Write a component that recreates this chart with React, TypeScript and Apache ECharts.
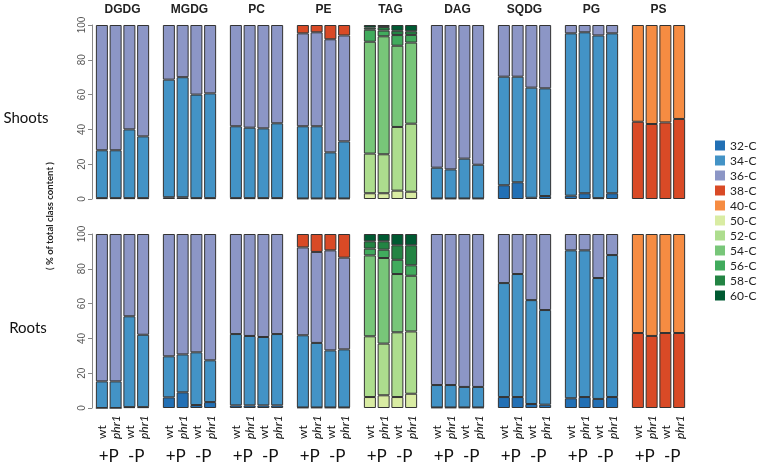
import React, { useEffect, useRef } from "react";
import * as echarts from "echarts";

const classes = ["32-C", "34-C", "36-C", "38-C", "40-C", "50-C", "52-C", "54-C", "56-C", "58-C", "60-C"];
const classColors = ["#2270b5", "#4393c6", "#8c96c6", "#d94a26", "#f68c42", "#d9eca3", "#addd8e", "#78c679", "#41ab5d", "#238443", "#005a32"];
const lipids = ["DGDG", "MGDG", "PC", "PE", "TAG", "DAG", "SQDG", "PG", "PS"];
const samples = ["wt", "phr1", "wt", "phr1"];
const treatments = ["+P", "-P"];
const tissues = ["Shoots", "Roots"];
const yTicks = [0, 20, 40, 60, 80, 100];

// Shoots: segment sizes (% of class) for wt+P, phr1+P, wt-P, phr1-P
const shootsDGDG: Record<string, number[]> = { "32-C": [0.5, 0.5, 0.5, 0.5], "34-C": [27.5, 27.5, 39.5, 35.5], "36-C": [72, 72, 60, 64] };
const shootsMGDG: Record<string, number[]> = { "32-C": [1, 1, 0.5, 0.5], "34-C": [67.6, 69, 59.5, 60.2], "36-C": [31.4, 30, 40, 39.3] };
const shootsPC: Record<string, number[]> = { "32-C": [0.5, 0.5, 0.5, 0.5], "34-C": [41.3, 40.5, 40.1, 43], "36-C": [58.2, 59, 59.4, 56.5] };
const shootsPE: Record<string, number[]> = { "32-C": [0.3, 0.3, 0.3, 0.3], "34-C": [41.5, 41.5, 26.5, 32.8], "36-C": [53.4, 54, 65, 60.9], "38-C": [4.8, 4.2, 8.2, 6] };
const shootsTAG: Record<string, number[]> = { "50-C": [3.3, 3.3, 4.8, 4.2], "52-C": [22.8, 22.4, 36.6, 39.1], "54-C": [64.3, 67.8, 46.7, 46.6], "56-C": [6.9, 3.3, 6.1, 4.4], "58-C": [1.2, 2, 2.5, 2.1], "60-C": [1.5, 1.2, 3.3, 3.6] };
const shootsDAG: Record<string, number[]> = { "32-C": [0.3, 0.3, 0.3, 0.3], "34-C": [17.7, 16.7, 22.9, 19.4], "36-C": [82, 83, 76.8, 80.3] };
const shootsSQDG: Record<string, number[]> = { "32-C": [7.9, 9.6, 0.7, 1.7], "34-C": [62.4, 60.7, 63.3, 61.9], "36-C": [29.7, 29.7, 36, 36.4] };
const shootsPG: Record<string, number[]> = { "32-C": [1.9, 3.3, 0.5, 3.3], "34-C": [93.3, 92.5, 93.5, 91.9], "36-C": [4.8, 4.2, 6, 4.8] };
const shootsPS: Record<string, number[]> = { "38-C": [44.4, 43.1, 44, 46], "40-C": [55.6, 56.9, 56, 54] };

// Roots
const rootsDGDG: Record<string, number[]> = { "32-C": [0, 0, 0.5, 0.5], "34-C": [15.3, 15.3, 52.2, 41.6], "36-C": [84.7, 84.7, 47.3, 57.9] };
const rootsMGDG: Record<string, number[]> = { "32-C": [6.1, 9, 1.7, 3.4], "34-C": [23.6, 21.8, 30.3, 24], "36-C": [70.3, 69.2, 68, 72.6] };
const rootsPC: Record<string, number[]> = { "32-C": [1.5, 1.5, 1.5, 1.5], "34-C": [41, 39.9, 39.3, 41], "36-C": [57.5, 58.6, 59.2, 57.5] };
const rootsPE: Record<string, number[]> = { "32-C": [0.3, 0.3, 0.3, 0.3], "34-C": [41.5, 37.1, 32.8, 33.4], "36-C": [50.5, 52.3, 57.5, 52.7], "38-C": [7.7, 10.3, 9.4, 13.6] };
const rootsTAG: Record<string, number[]> = { "50-C": [6.3, 7.3, 6.3, 8.2], "52-C": [34.9, 29.7, 37.2, 35.8], "54-C": [46.5, 49.2, 33.5, 32], "56-C": [3.9, 4.8, 8.2, 6], "58-C": [4.2, 4.8, 8.3, 11.5], "60-C": [4.2, 4.2, 6.5, 6.5] };
const rootsDAG: Record<string, number[]> = { "32-C": [0.3, 0.3, 0.3, 0.3], "34-C": [12.9, 12.9, 11.8, 11.8], "36-C": [86.8, 86.8, 87.9, 87.9] };
const rootsSQDG: Record<string, number[]> = { "32-C": [6.3, 6.3, 2.3, 1.9], "34-C": [65.5, 70.7, 59.7, 54.4], "36-C": [28.2, 23, 38, 43.7] };
const rootsPG: Record<string, number[]> = { "32-C": [5.6, 6.3, 5.2, 6.3], "34-C": [85, 84.3, 69.5, 81.6], "36-C": [9.4, 9.4, 25.3, 12.1] };
const rootsPS: Record<string, number[]> = { "38-C": [43.1, 41.4, 43.1, 43.1], "40-C": [56.9, 58.6, 56.9, 56.9] };

const shootsData = [shootsDGDG, shootsMGDG, shootsPC, shootsPE, shootsTAG, shootsDAG, shootsSQDG, shootsPG, shootsPS];
const rootsData = [rootsDGDG, rootsMGDG, rootsPC, rootsPE, rootsTAG, rootsDAG, rootsSQDG, rootsPG, rootsPS];

const PANEL_LEFT = 95;
const PANEL_STEP = 67;
const PANEL_W = 55;
const ROW_TOPS = [25, 234];
const ROW_H = 174;
const ROW_LABEL_POS = [[26, 117], [28, 327]];
const CAL = "Lato, 'Open Sans', sans-serif";
const ARIAL = "'Liberation Sans', Arial, sans-serif";

export default function App() {
  const ref = useRef<HTMLDivElement>(null);
  useEffect(() => {
    const chart = echarts.init(ref.current!, null, { renderer: "svg" });
    const grid: any[] = [];
    const xAxis: any[] = [];
    const yAxis: any[] = [];
    const series: any[] = [];
    const graphic: any[] = [];
    const rows = [shootsData, rootsData];

    rows.forEach((rowData, r) => {
      rowData.forEach((panel, p) => {
        const g = r * lipids.length + p;
        grid.push({ left: PANEL_LEFT + p * PANEL_STEP, top: ROW_TOPS[r], width: PANEL_W, height: ROW_H });
        const mainX = xAxis.length;
        xAxis.push({
          gridIndex: g,
          type: "category",
          data: samples,
          axisLine: { show: false },
          axisTick: { show: false },
          axisLabel: r === 1
            ? {
                show: true,
                interval: 0,
                rotate: 90,
                align: "left",
                verticalAlign: "middle",
                margin: 31,
                fontFamily: CAL,
                fontSize: 12,
                color: "#111",
                formatter: (v: string) => (v === "phr1" ? "{i|phr1}" : "{n|" + v + "}"),
                rich: {
                  i: { fontStyle: "italic", fontFamily: CAL, fontSize: 12, color: "#111" },
                  n: { fontFamily: CAL, fontSize: 12, color: "#111" },
                },
              }
            : { show: false },
        });
        if (r === 1) {
          xAxis.push({
            gridIndex: g,
            type: "category",
            data: treatments,
            position: "bottom",
            axisLine: { show: false },
            axisTick: { show: false },
            axisLabel: { interval: 0, margin: 39, fontFamily: CAL, fontSize: 17, color: "#111" },
          });
        }
        yAxis.push({
          gridIndex: g,
          type: "value",
          min: 0,
          max: 100,
          interval: 20,
          show: p === 0,
          offset: 3,
          splitLine: { show: false },
          axisLine: { show: true, lineStyle: { color: "#888", width: 1 } },
          axisTick: { show: true, length: 4, lineStyle: { color: "#888" } },
          axisLabel: {
            rotate: 90,
            margin: 6,
            fontFamily: ARIAL,
            fontSize: 10,
            color: "#555",
            formatter: (v: number) => (yTicks.includes(v) ? String(v) : ""),
          },
        });
        classes.forEach((c, ci) => {
          const vals = panel[c];
          if (!vals) return;
          series.push({
            type: "bar",
            name: c,
            xAxisIndex: mainX,
            yAxisIndex: g,
            stack: "s" + g,
            barWidth: 12,
            data: vals,
            itemStyle: { color: classColors[ci], borderColor: "#333", borderWidth: 1 },
            emphasis: { disabled: true },
          });
        });
      });
    });

    lipids.forEach((name, p) => {
      graphic.push({
        type: "text",
        x: PANEL_LEFT + p * PANEL_STEP + PANEL_W / 2,
        y: 9,
        style: { text: name, textAlign: "center", textVerticalAlign: "middle", font: "bold 12px " + ARIAL, fill: "#222" },
      });
    });
    tissues.forEach((t, r) => {
      graphic.push({
        type: "text",
        x: ROW_LABEL_POS[r][0],
        y: ROW_LABEL_POS[r][1],
        style: { text: t, textAlign: "center", textVerticalAlign: "middle", font: "15px " + CAL, fill: "#111" },
      });
    });
    graphic.push({
      type: "text",
      x: 49,
      y: 216,
      rotation: Math.PI / 2,
      style: { text: "( % of total class content )", textAlign: "center", textVerticalAlign: "middle", font: "bold 9.5px " + CAL, fill: "#222" },
    });

    chart.setOption({
      animation: false,
      grid,
      xAxis,
      yAxis,
      series,
      graphic,
      legend: {
        data: classes,
        orient: "vertical",
        left: 715,
        top: 139.5,
        padding: 0,
        itemWidth: 10,
        itemHeight: 10,
        itemGap: 3,
        icon: "rect",
        selectedMode: false,
        itemStyle: { borderWidth: 0 },
        textStyle: { fontFamily: CAL, fontSize: 12, color: "#222" },
      },
    });
    return () => chart.dispose();
  }, []);
  return <div ref={ref} style={{ position: "fixed", left: 0, top: 0, width: 757, height: 466 }} />;
}
